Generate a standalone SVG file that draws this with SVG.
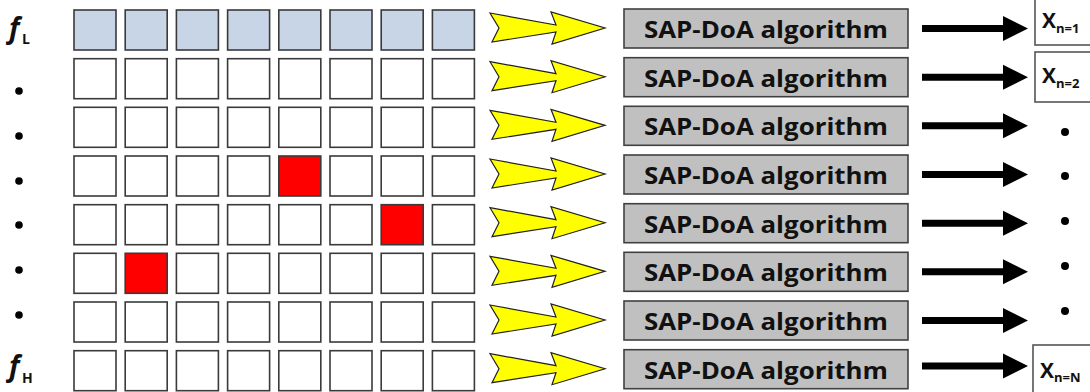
<svg xmlns="http://www.w3.org/2000/svg" xmlns:xlink="http://www.w3.org/1999/xlink" width="1090" height="392" viewBox="0 0 1090 392">
<style>
.cell{fill:#ffffff;stroke:#3a3a3a;stroke-width:1.6}
.top{fill:#c8d5e6}
.hit{fill:#ff0000}
.sap{fill:#c0c0c0;stroke:#404040;stroke-width:1.6}
.sapt{font-family:"Open Sans","Liberation Sans",sans-serif;font-weight:700;font-size:24px;fill:#111}
.yel{fill:#ffff00;stroke:#222;stroke-width:1.2;stroke-linejoin:miter}
.blk{fill:#000}
.xb{fill:#fff;stroke:#555;stroke-width:1.6}
.xt{font-family:"Open Sans","Liberation Sans",sans-serif;font-weight:700;fill:#111}
.f{font-family:"Open Sans","Liberation Sans",sans-serif;font-weight:700;font-style:italic;font-size:28px;fill:#111}
.fs{font-family:"Open Sans","Liberation Sans",sans-serif;font-weight:700;font-size:14px;fill:#111}
.dot{fill:#000}
</style>
<defs>
<path id="ya" class="yel" d="M490,-15 L556,-3 L551,-16 L605,0 L552,16 L556,4 L492,14 L499,0 Z"/>
<path id="ba" class="blk" d="M922,-3.5 H1003 V-12.5 L1028,0 L1003,12.5 V3.5 H922 Z"/>
</defs>
<g id="labels">
<text class="f" x="9" y="38">f</text><text class="fs" x="22" y="44">L</text>
<text class="f" x="9" y="376">f</text><text class="fs" x="22" y="383">H</text>
<circle class="dot" cx="19" cy="91" r="3.8"/>
<circle class="dot" cx="19" cy="136" r="3.8"/>
<circle class="dot" cx="19" cy="181" r="3.8"/>
<circle class="dot" cx="19" cy="225" r="3.8"/>
<circle class="dot" cx="19" cy="270" r="3.8"/>
<circle class="dot" cx="19" cy="315" r="3.8"/>
</g>
<g id="grid">
<g id="row1">
<rect class="cell top" x="74" y="10" width="42" height="40"/><rect class="cell top" x="125.2" y="10" width="42" height="40"/><rect class="cell top" x="176.4" y="10" width="42" height="40"/><rect class="cell top" x="227.6" y="10" width="42" height="40"/><rect class="cell top" x="278.8" y="10" width="42" height="40"/><rect class="cell top" x="330" y="10" width="42" height="40"/><rect class="cell top" x="381.2" y="10" width="42" height="40"/><rect class="cell top" x="432.4" y="10" width="42" height="40"/>
</g>
<g id="row2">
<rect class="cell" x="74" y="58.7" width="42" height="40"/><rect class="cell" x="125.2" y="58.7" width="42" height="40"/><rect class="cell" x="176.4" y="58.7" width="42" height="40"/><rect class="cell" x="227.6" y="58.7" width="42" height="40"/><rect class="cell" x="278.8" y="58.7" width="42" height="40"/><rect class="cell" x="330" y="58.7" width="42" height="40"/><rect class="cell" x="381.2" y="58.7" width="42" height="40"/><rect class="cell" x="432.4" y="58.7" width="42" height="40"/>
</g>
<g id="row3">
<rect class="cell" x="74" y="107.3" width="42" height="40"/><rect class="cell" x="125.2" y="107.3" width="42" height="40"/><rect class="cell" x="176.4" y="107.3" width="42" height="40"/><rect class="cell" x="227.6" y="107.3" width="42" height="40"/><rect class="cell" x="278.8" y="107.3" width="42" height="40"/><rect class="cell" x="330" y="107.3" width="42" height="40"/><rect class="cell" x="381.2" y="107.3" width="42" height="40"/><rect class="cell" x="432.4" y="107.3" width="42" height="40"/>
</g>
<g id="row4">
<rect class="cell" x="74" y="156" width="42" height="40"/><rect class="cell" x="125.2" y="156" width="42" height="40"/><rect class="cell" x="176.4" y="156" width="42" height="40"/><rect class="cell" x="227.6" y="156" width="42" height="40"/><rect class="cell hit" x="278.8" y="156" width="42" height="40"/><rect class="cell" x="330" y="156" width="42" height="40"/><rect class="cell" x="381.2" y="156" width="42" height="40"/><rect class="cell" x="432.4" y="156" width="42" height="40"/>
</g>
<g id="row5">
<rect class="cell" x="74" y="204.7" width="42" height="40"/><rect class="cell" x="125.2" y="204.7" width="42" height="40"/><rect class="cell" x="176.4" y="204.7" width="42" height="40"/><rect class="cell" x="227.6" y="204.7" width="42" height="40"/><rect class="cell" x="278.8" y="204.7" width="42" height="40"/><rect class="cell" x="330" y="204.7" width="42" height="40"/><rect class="cell hit" x="381.2" y="204.7" width="42" height="40"/><rect class="cell" x="432.4" y="204.7" width="42" height="40"/>
</g>
<g id="row6">
<rect class="cell" x="74" y="253.3" width="42" height="40"/><rect class="cell hit" x="125.2" y="253.3" width="42" height="40"/><rect class="cell" x="176.4" y="253.3" width="42" height="40"/><rect class="cell" x="227.6" y="253.3" width="42" height="40"/><rect class="cell" x="278.8" y="253.3" width="42" height="40"/><rect class="cell" x="330" y="253.3" width="42" height="40"/><rect class="cell" x="381.2" y="253.3" width="42" height="40"/><rect class="cell" x="432.4" y="253.3" width="42" height="40"/>
</g>
<g id="row7">
<rect class="cell" x="74" y="302" width="42" height="40"/><rect class="cell" x="125.2" y="302" width="42" height="40"/><rect class="cell" x="176.4" y="302" width="42" height="40"/><rect class="cell" x="227.6" y="302" width="42" height="40"/><rect class="cell" x="278.8" y="302" width="42" height="40"/><rect class="cell" x="330" y="302" width="42" height="40"/><rect class="cell" x="381.2" y="302" width="42" height="40"/><rect class="cell" x="432.4" y="302" width="42" height="40"/>
</g>
<g id="row8">
<rect class="cell" x="74" y="350.7" width="42" height="40"/><rect class="cell" x="125.2" y="350.7" width="42" height="40"/><rect class="cell" x="176.4" y="350.7" width="42" height="40"/><rect class="cell" x="227.6" y="350.7" width="42" height="40"/><rect class="cell" x="278.8" y="350.7" width="42" height="40"/><rect class="cell" x="330" y="350.7" width="42" height="40"/><rect class="cell" x="381.2" y="350.7" width="42" height="40"/><rect class="cell" x="432.4" y="350.7" width="42" height="40"/>
</g>
</g>
<g id="connectors">
<use xlink:href="#ya" href="#ya" transform="translate(0,28)"/>
<use xlink:href="#ya" href="#ya" transform="translate(0,76.7)"/>
<use xlink:href="#ya" href="#ya" transform="translate(0,125.3)"/>
<use xlink:href="#ya" href="#ya" transform="translate(0,174)"/>
<use xlink:href="#ya" href="#ya" transform="translate(0,222.7)"/>
<use xlink:href="#ya" href="#ya" transform="translate(0,271.3)"/>
<use xlink:href="#ya" href="#ya" transform="translate(0,320)"/>
<use xlink:href="#ya" href="#ya" transform="translate(0,368.7)"/>
<use xlink:href="#ba" href="#ba" transform="translate(0,28.5)"/>
<use xlink:href="#ba" href="#ba" transform="translate(0,77.2)"/>
<use xlink:href="#ba" href="#ba" transform="translate(0,125.8)"/>
<use xlink:href="#ba" href="#ba" transform="translate(0,174.5)"/>
<use xlink:href="#ba" href="#ba" transform="translate(0,223.2)"/>
<use xlink:href="#ba" href="#ba" transform="translate(0,271.8)"/>
<use xlink:href="#ba" href="#ba" transform="translate(0,320.5)"/>
<use xlink:href="#ba" href="#ba" transform="translate(0,366)"/>
</g>
<g id="sap1"><rect class="sap" x="624" y="9" width="284" height="39"/><text class="sapt" x="766" y="38" text-anchor="middle" textLength="244" lengthAdjust="spacingAndGlyphs">SAP-DoA algorithm</text></g>
<g id="sap2"><rect class="sap" x="624" y="57.7" width="284" height="39"/><text class="sapt" x="766" y="86.7" text-anchor="middle" textLength="244" lengthAdjust="spacingAndGlyphs">SAP-DoA algorithm</text></g>
<g id="sap3"><rect class="sap" x="624" y="106.3" width="284" height="39"/><text class="sapt" x="766" y="135.3" text-anchor="middle" textLength="244" lengthAdjust="spacingAndGlyphs">SAP-DoA algorithm</text></g>
<g id="sap4"><rect class="sap" x="624" y="155" width="284" height="39"/><text class="sapt" x="766" y="184" text-anchor="middle" textLength="244" lengthAdjust="spacingAndGlyphs">SAP-DoA algorithm</text></g>
<g id="sap5"><rect class="sap" x="624" y="203.7" width="284" height="39"/><text class="sapt" x="766" y="232.7" text-anchor="middle" textLength="244" lengthAdjust="spacingAndGlyphs">SAP-DoA algorithm</text></g>
<g id="sap6"><rect class="sap" x="624" y="252.3" width="284" height="39"/><text class="sapt" x="766" y="281.3" text-anchor="middle" textLength="244" lengthAdjust="spacingAndGlyphs">SAP-DoA algorithm</text></g>
<g id="sap7"><rect class="sap" x="624" y="301" width="284" height="39"/><text class="sapt" x="766" y="330" text-anchor="middle" textLength="244" lengthAdjust="spacingAndGlyphs">SAP-DoA algorithm</text></g>
<g id="sap8"><rect class="sap" x="624" y="349.7" width="284" height="39"/><text class="sapt" x="766" y="378.7" text-anchor="middle" textLength="244" lengthAdjust="spacingAndGlyphs">SAP-DoA algorithm</text></g>
<g id="x1"><rect class="xb" x="1035" y="-4" width="70" height="49"/><text class="xt" x="1042" y="28" font-size="21">X<tspan font-size="13" dy="5">n=1</tspan></text></g>
<g id="x2"><rect class="xb" x="1035" y="52" width="70" height="50"/><text class="xt" x="1042" y="83" font-size="21">X<tspan font-size="13" dy="5">n=2</tspan></text></g>
<g id="xN"><rect class="xb" x="1033" y="345" width="70" height="60"/><text class="xt" x="1040" y="378" font-size="21">X<tspan font-size="13" dy="4">n=N</tspan></text></g>
<g id="outdots">
<circle class="dot" cx="1065" cy="132" r="4"/>
<circle class="dot" cx="1065" cy="176" r="4"/>
<circle class="dot" cx="1065" cy="221" r="4"/>
<circle class="dot" cx="1065" cy="266" r="4"/>
<circle class="dot" cx="1065" cy="311" r="4"/>
</g>
</svg>
